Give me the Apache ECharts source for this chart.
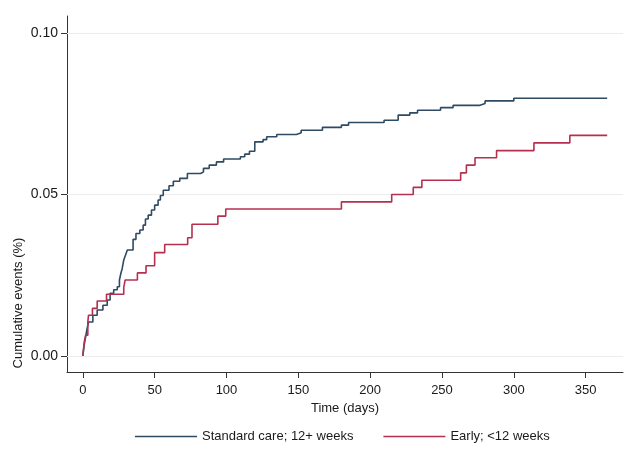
<!DOCTYPE html>
<html>
<head>
<meta charset="utf-8">
<script src="https://cdn.jsdelivr.net/npm/echarts@6/dist/echarts.min.js"></script>
<style>html,body{margin:0;padding:0;background:#fff}#c{width:640px;height:459px}</style>
</head>
<body>
<div id="c"></div>
<script>
// Standard care; 12+ weeks : [day, cumulative events]
var standardCare = [[0,0],[1,0.0035],[2,0.006],[3,0.0085],[4,0.0105],[7,0.0126],[10,0.0142],[14,0.0157],[17,0.0173],[19,0.0194],[21.5,0.0205],[24,0.0214],[25.5,0.0235],[26.5,0.0256],[27.4,0.027],[28.5,0.0297],[29.7,0.0312],[31,0.0328],[35,0.0361],[37,0.0379],[39.7,0.039],[42,0.0405],[43.6,0.0424],[45.5,0.0436],[47.8,0.0452],[50,0.0467],[52.4,0.0483],[54,0.0497],[56,0.0513],[60,0.0527],[63,0.0541],[67.5,0.055],[72.8,0.0565],[82,0.057],[84,0.0581],[88,0.0591],[93,0.0601],[98,0.061],[109.7,0.0617],[112.7,0.0625],[116,0.0634],[119.7,0.0663],[125.5,0.067],[128,0.0679],[135,0.0686],[148.7,0.0691],[152,0.0699],[166.8,0.0708],[180,0.0715],[185,0.0723],[209.7,0.073],[219.5,0.0746],[227.6,0.0753],[233,0.0761],[249,0.0769],[257.7,0.0776],[276,0.0782],[280,0.079],[300,0.0798],[365,0.0798]];
// Early; <12 weeks
var early = [[0,0],[1,0.0043],[2,0.0064],[3.5,0.0106],[4,0.0126],[6.7,0.0147],[10,0.017],[16.5,0.0191],[28.5,0.0212],[29.5,0.0235],[38,0.0257],[44,0.0279],[50,0.032],[57,0.0345],[73,0.0366],[76,0.0408],[94,0.0433],[99.5,0.0455],[180,0.0477],[215,0.05],[230,0.0522],[236,0.0544],[263,0.0567],[267,0.0591],[273,0.0614],[288,0.0636],[314,0.066],[339,0.0683],[365,0.0683]];
var xTicks = [0,50,100,150,200,250,300,350];
var yTicks = [0,0.05,0.1];
var seriesNames = ['Standard care; 12+ weeks','Early; <12 weeks'];

var FONT = 'Liberation Sans, Arial, sans-serif';
var chart = echarts.init(document.getElementById('c'), null, {renderer:'canvas'});
chart.setOption({
  animation:false,
  backgroundColor:'#fff',
  textStyle:{fontFamily:FONT},
  grid:{left:67, right:17, top:16, bottom:87, containLabel:false},
  xAxis:{
    type:'value', min:-11, max:376,
    name:'Time (days)', nameLocation:'middle', nameGap:25,
    nameTextStyle:{color:'#1a1a1a', fontSize:13, fontFamily:FONT},
    axisLine:{onZero:false, lineStyle:{color:'#333', width:1}},
    axisTick:{show:true, length:6, customValues:xTicks, lineStyle:{color:'#333'}},
    axisLabel:{customValues:xTicks, margin:12, color:'#1a1a1a', fontSize:13, fontFamily:FONT},
    splitLine:{show:false}
  },
  yAxis:{
    type:'value', min:-0.005, max:0.1053,
    axisLine:{show:true, onZero:false, lineStyle:{color:'#333', width:1}},
    axisTick:{show:true, length:6, customValues:yTicks, lineStyle:{color:'#333'}},
    axisLabel:{customValues:yTicks, margin:9, color:'#1a1a1a', fontSize:14, fontFamily:FONT,
      formatter:function(v){return v.toFixed(2);}},
    splitLine:{show:false}
  },
  legend:{
    data:seriesNames, left:130, top:425, itemWidth:62, itemHeight:1.6, itemGap:30, icon:'rect',
    textStyle:{color:'#1a1a1a', fontSize:13, fontFamily:FONT}
  },
  graphic:[{
    type:'text', x:18, y:303, rotation:Math.PI/2,
    style:{text:'Cumulative events (%)', fill:'#1a1a1a', font:'13px '+FONT, align:'center', verticalAlign:'middle'}
  }],
  series:[
    {type:'line', name:'grid', data:[], z:1, silent:true, symbol:'none',
      markLine:{silent:true, symbol:'none', z:1, label:{show:false},
        lineStyle:{color:'#ececec', width:1, type:'solid'},
        data:yTicks.map(function(v){return {yAxis:v};})}},
    {type:'line', name:seriesNames[0], data:standardCare, step:'end', symbol:'none', z:3,
      lineStyle:{color:'#2f4a63', width:1.6}, itemStyle:{color:'#2f4a63'}},
    {type:'line', name:seriesNames[1], data:early, step:'end', symbol:'none', z:3,
      lineStyle:{color:'#b5304f', width:1.6}, itemStyle:{color:'#b5304f'}}
  ]
});
</script>
</body>
</html>
